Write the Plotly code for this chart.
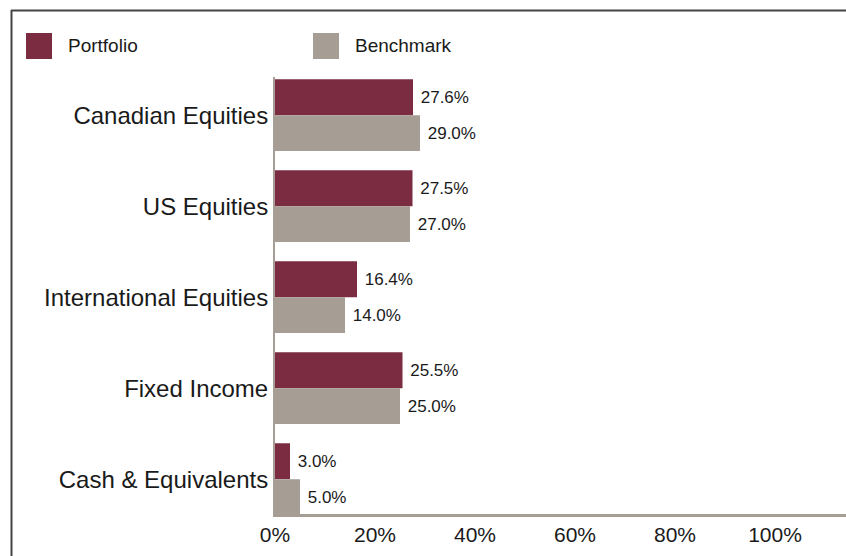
import plotly.graph_objects as go

categories = ["Canadian Equities", "US Equities", "International Equities",
              "Fixed Income", "Cash & Equivalents"]
portfolio = [27.6, 27.5, 16.4, 25.5, 3.0]
benchmark = [29.0, 27.0, 14.0, 25.0, 5.0]
series_names = ["Portfolio", "Benchmark"]
tick_values = [0, 20, 40, 60, 80, 100]
tick_labels = ["%d%%" % v for v in tick_values]

RED = "#7B2C40"
GREY = "#A69D94"
FONT = "Liberation Sans, Arial, sans-serif"

W, H = 846, 556
ML, MR, MT, MB = 275, 0, 77, 42
PW, PH = W - ML - MR, H - MT - MB


def px_x(x):
    return (x - ML) / PW


def px_y(y):
    return (H - MB - y) / PH


fig = go.Figure()
for name, vals, col in [(series_names[0], portfolio, RED), (series_names[1], benchmark, GREY)]:
    fig.add_trace(go.Bar(
        name=name, y=categories, x=vals, orientation="h",
        marker=dict(color=col, line=dict(width=0)),
        text=[" %.1f%%" % v for v in vals], textposition="outside",
        textfont=dict(size=17, color="#1a1a1a", family=FONT),
        cliponaxis=False, showlegend=False, hoverinfo="skip",
    ))

shapes = [
    # outer frame (top and left)
    dict(type="line", xref="paper", yref="paper", x0=px_x(11), x1=px_x(W + 5),
         y0=px_y(10.5), y1=px_y(10.5), line=dict(color="#444444", width=2)),
    dict(type="line", xref="paper", yref="paper", x0=px_x(11.5), x1=px_x(11.5),
         y0=px_y(10), y1=px_y(H + 5), line=dict(color="#444444", width=2)),
    # legend swatches
    dict(type="rect", xref="paper", yref="paper", x0=px_x(26), x1=px_x(52),
         y0=px_y(59), y1=px_y(33), fillcolor=RED, line=dict(width=0)),
    dict(type="rect", xref="paper", yref="paper", x0=px_x(313), x1=px_x(339),
         y0=px_y(59), y1=px_y(33), fillcolor=GREY, line=dict(width=0)),
]
annotations = [
    dict(text=series_names[0], xref="paper", yref="paper", x=px_x(66), y=px_y(46),
         xanchor="left", yanchor="middle", showarrow=False,
         font=dict(size=19, color="#1a1a1a", family=FONT)),
    dict(text=series_names[1], xref="paper", yref="paper", x=px_x(353), y=px_y(46),
         xanchor="left", yanchor="middle", showarrow=False,
         font=dict(size=19, color="#1a1a1a", family=FONT)),
]

fig.update_layout(
    width=W, height=H, autosize=False,
    margin=dict(l=ML, r=MR, t=MT, b=MB, pad=0),
    paper_bgcolor="white", plot_bgcolor="white",
    barmode="group", bargap=0.211, bargroupgap=0,
    font=dict(family=FONT, color="#1a1a1a"),
    shapes=shapes, annotations=annotations,
    showlegend=False, hovermode=False,
    xaxis=dict(range=[0, PW / 5.0], tickmode="array", tickvals=tick_values, ticktext=tick_labels,
               showgrid=False, zeroline=False, showline=True, linecolor=GREY,
               linewidth=3, ticks="", tickfont=dict(size=21, family=FONT, color="#1a1a1a")),
    yaxis=dict(type="category", range=[4.383, -0.42], showgrid=False, zeroline=False,
               showline=True, linecolor=GREY, linewidth=2, ticks="",
               tickfont=dict(size=24, family=FONT, color="#1a1a1a")),
)

fig.write_html(
    "out.html",
    config={"displayModeBar": False, "staticPlot": True},
    post_script="document.body.style.margin='0';document.body.style.overflow='hidden';",
)
